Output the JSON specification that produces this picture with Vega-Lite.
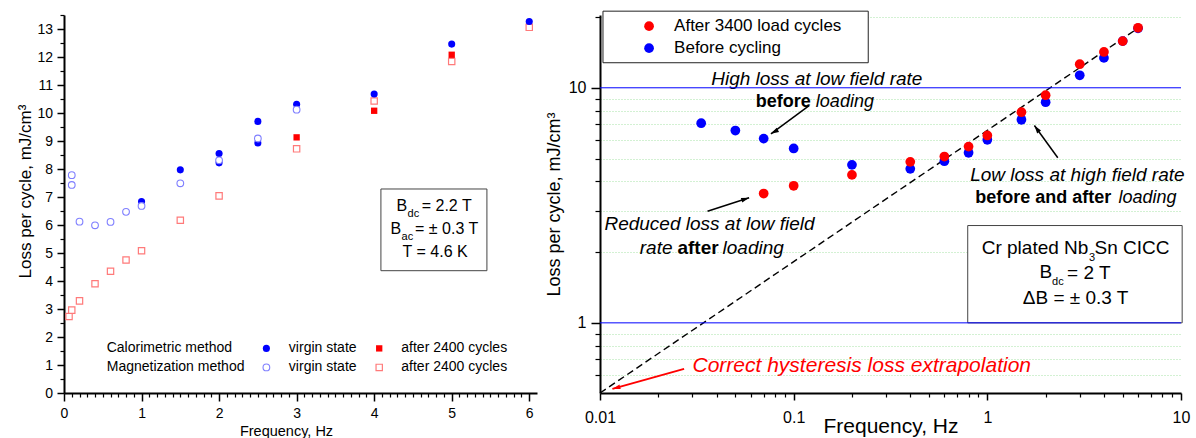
{
"$schema":"https://vega.github.io/schema/vega-lite/v6.json",
"background":"white",
"padding":{"left":16,"top":10,"right":5,"bottom":0},
"bounds":"flush",
"spacing":63,
"config":{
 "font":"Liberation Sans",
 "view":{"stroke":null},
 "axis":{"domainColor":"black","tickColor":"black","labelColor":"black","titleColor":"black","titleFontWeight":"normal","grid":false,"labelFlush":false,"labelOverlap":false,"labelBound":false,"labelFont":"Liberation Sans","titleFont":"Liberation Sans"}
},
"datasets":{
 "one":[{}],
 "left":[
  {"f":1.0,"v":6.84,"s":"cal_virgin"},{"f":1.5,"v":7.97,"s":"cal_virgin"},{"f":2.0,"v":8.55,"s":"cal_virgin"},{"f":2.0,"v":8.22,"s":"cal_virgin"},{"f":2.5,"v":9.70,"s":"cal_virgin"},{"f":2.5,"v":8.93,"s":"cal_virgin"},{"f":3.0,"v":10.31,"s":"cal_virgin"},{"f":4.0,"v":10.68,"s":"cal_virgin"},{"f":5.0,"v":12.46,"s":"cal_virgin"},{"f":6.0,"v":13.27,"s":"cal_virgin"},
  {"f":3.0,"v":9.13,"s":"cal_after"},{"f":4.0,"v":10.08,"s":"cal_after"},{"f":5.0,"v":12.08,"s":"cal_after"},
  {"f":0.1,"v":7.78,"s":"mag_virgin"},{"f":0.1,"v":7.43,"s":"mag_virgin"},{"f":0.2,"v":6.12,"s":"mag_virgin"},{"f":0.4,"v":5.99,"s":"mag_virgin"},{"f":0.6,"v":6.11,"s":"mag_virgin"},{"f":0.8,"v":6.47,"s":"mag_virgin"},{"f":1.0,"v":6.68,"s":"mag_virgin"},{"f":1.5,"v":7.49,"s":"mag_virgin"},{"f":2.0,"v":8.31,"s":"mag_virgin"},{"f":2.5,"v":9.09,"s":"mag_virgin"},{"f":3.0,"v":10.12,"s":"mag_virgin"},
  {"f":0.065,"v":2.73,"s":"mag_after"},{"f":0.1,"v":2.96,"s":"mag_after"},{"f":0.2,"v":3.29,"s":"mag_after"},{"f":0.4,"v":3.90,"s":"mag_after"},{"f":0.6,"v":4.35,"s":"mag_after"},{"f":0.8,"v":4.75,"s":"mag_after"},{"f":1.0,"v":5.08,"s":"mag_after"},{"f":1.5,"v":6.17,"s":"mag_after"},{"f":2.0,"v":7.04,"s":"mag_after"},{"f":3.0,"v":8.72,"s":"mag_after"},{"f":4.0,"v":10.43,"s":"mag_after"},{"f":5.0,"v":11.84,"s":"mag_after"},{"f":6.0,"v":13.06,"s":"mag_after"}
 ],
 "right":[
  {"f":0.0333,"v":7.07,"s":"before"},{"f":0.05,"v":6.58,"s":"before"},{"f":0.07,"v":6.08,"s":"before"},{"f":0.1,"v":5.52,"s":"before"},{"f":0.2,"v":4.70,"s":"before"},{"f":0.4,"v":4.52,"s":"before"},{"f":0.6,"v":4.87,"s":"before"},{"f":0.8,"v":5.29,"s":"before"},{"f":1,"v":6.01,"s":"before"},{"f":1.5,"v":7.31,"s":"before"},{"f":2,"v":8.68,"s":"before"},{"f":3,"v":11.3,"s":"before"},{"f":4,"v":13.4,"s":"before"},{"f":5,"v":15.8,"s":"before"},{"f":6,"v":17.9,"s":"before"},
  {"f":0.07,"v":3.55,"s":"after"},{"f":0.1,"v":3.83,"s":"after"},{"f":0.2,"v":4.26,"s":"after"},{"f":0.4,"v":4.84,"s":"after"},{"f":0.6,"v":5.10,"s":"after"},{"f":0.8,"v":5.62,"s":"after"},{"f":1,"v":6.27,"s":"after"},{"f":1.5,"v":7.87,"s":"after"},{"f":2,"v":9.30,"s":"after"},{"f":3,"v":12.6,"s":"after"},{"f":4,"v":14.2,"s":"after"},{"f":5,"v":15.8,"s":"after"},{"f":6,"v":18.0,"s":"after"}
 ]
},
"hconcat":[
 {
  "width":473,"height":378,
  "resolve":{"axis":{"x":"independent","y":"independent"}},
  "layer":[
   {"data":{"name":"left"},"mark":{"type":"point","opacity":0},
    "encoding":{
     "x":{"field":"f","type":"quantitative","scale":{"domain":[0,6.1],"nice":false,"zero":false},"axis":{"orient":"bottom","values":[0.1,0.2,0.3,0.4,0.5,0.6,0.7,0.8,0.9,1.1,1.2,1.3,1.4,1.5,1.6,1.7,1.8,1.9,2.1,2.2,2.3,2.4,2.5,2.6,2.7,2.8,2.9,3.1,3.2,3.3,3.4,3.5,3.6,3.7,3.8,3.9,4.1,4.2,4.3,4.4,4.5,4.6,4.7,4.8,4.9,5.1,5.2,5.3,5.4,5.5,5.6,5.7,5.8,5.9],"labels":false,"domain":false,"tickSize":4,"tickWidth":1.2,"title":null}},
     "y":{"field":"v","type":"quantitative","scale":{"domain":[0,13.5],"nice":false,"zero":false},"axis":{"orient":"left","values":[0.5,1.5,2.5,3.5,4.5,5.5,6.5,7.5,8.5,9.5,10.5,11.5,12.5,13.5],"labels":false,"domain":false,"tickSize":4,"tickWidth":1.2,"title":null}}}},
   {"data":{"name":"left"},"transform":[{"filter":"datum.s==='mag_after'"}],
    "mark":{"type":"point","shape":"square","size":40,"filled":true,"fill":"white","stroke":"#ff7a7a","strokeWidth":1.2,"opacity":1},
    "encoding":{
     "x":{"field":"f","type":"quantitative","axis":{"orient":"bottom","values":[0,1,2,3,4,5,6],"format":"d","tickSize":8,"tickWidth":1.5,"domainWidth":2,"labelFontSize":14,"labelPadding":5,"title":"Frequency, Hz","titleFontSize":14.5,"titleX":222,"titleY":42.7,"titleBaseline":"alphabetic"}},
     "y":{"field":"v","type":"quantitative","axis":{"orient":"left","values":[0,1,2,3,4,5,6,7,8,9,10,11,12,13],"format":"d","tickSize":7,"tickWidth":1.5,"domainWidth":2,"labelFontSize":14,"labelPadding":4.5,"title":"Loss per cycle, mJ/cm³","titleFontSize":17,"titleX":-33.3,"titleY":176,"titleBaseline":"alphabetic"}}}},
   {"data":{"name":"left"},"transform":[{"filter":"datum.s==='cal_after'"}],
    "mark":{"type":"point","shape":"square","size":40,"filled":true,"color":"#ff0000","opacity":1},
    "encoding":{"x":{"field":"f","type":"quantitative","axis":null},"y":{"field":"v","type":"quantitative","axis":null}}},
   {"data":{"name":"left"},"transform":[{"filter":"datum.s==='cal_virgin'"}],
    "mark":{"type":"point","shape":"circle","size":50,"filled":true,"color":"#0000ff","opacity":1},
    "encoding":{"x":{"field":"f","type":"quantitative","axis":null},"y":{"field":"v","type":"quantitative","axis":null}}},
   {"data":{"name":"left"},"transform":[{"filter":"datum.s==='mag_virgin'"}],
    "mark":{"type":"point","shape":"circle","size":45,"filled":true,"fill":"white","stroke":"#7f7fff","strokeWidth":1.1,"opacity":1},
    "encoding":{"x":{"field":"f","type":"quantitative","axis":null},"y":{"field":"v","type":"quantitative","axis":null}}},
   {"data":{"name":"one"},"mark":{"type":"rect","fill":"white","stroke":"#444444","strokeWidth":1},
    "encoding":{"x":{"datum":4.087,"axis":null},"x2":{"datum":5.454},"y":{"datum":7.286,"axis":null},"y2":{"datum":4.368}}},
   {"data":{"name":"one"},"mark":{"type":"text","text":"B","align":"left","baseline":"middle","fontSize":16},"encoding":{"x":{"datum":4.287,"axis":null},"y":{"datum":6.689,"axis":null}}},
   {"data":{"name":"one"},"mark":{"type":"text","text":"dc","align":"left","baseline":"middle","fontSize":11},"encoding":{"x":{"datum":4.431,"axis":null},"y":{"datum":6.393,"axis":null}}},
   {"data":{"name":"one"},"mark":{"type":"text","text":"= 2.2 T","align":"left","baseline":"middle","fontSize":16},"encoding":{"x":{"datum":4.613,"axis":null},"y":{"datum":6.689,"axis":null}}},
   {"data":{"name":"one"},"mark":{"type":"text","text":"B","align":"left","baseline":"middle","fontSize":16},"encoding":{"x":{"datum":4.21,"axis":null},"y":{"datum":5.857,"axis":null}}},
   {"data":{"name":"one"},"mark":{"type":"text","text":"ac","align":"left","baseline":"middle","fontSize":11},"encoding":{"x":{"datum":4.354,"axis":null},"y":{"datum":5.557,"axis":null}}},
   {"data":{"name":"one"},"mark":{"type":"text","text":"= ± 0.3 T","align":"left","baseline":"middle","fontSize":16},"encoding":{"x":{"datum":4.527,"axis":null},"y":{"datum":5.857,"axis":null}}},
   {"data":{"name":"one"},"mark":{"type":"text","text":"T = 4.6 K","align":"center","baseline":"middle","fontSize":16},"encoding":{"x":{"datum":4.786,"axis":null},"y":{"datum":5.046,"axis":null}}},
   {"data":{"name":"one"},"mark":{"type":"text","text":"Calorimetric method","align":"left","baseline":"middle","fontSize":14},"encoding":{"x":{"datum":0.551,"axis":null},"y":{"datum":1.593,"axis":null}}},
   {"data":{"name":"one"},"mark":{"type":"text","text":"Magnetization method","align":"left","baseline":"middle","fontSize":14},"encoding":{"x":{"datum":0.551,"axis":null},"y":{"datum":0.914,"axis":null}}},
   {"data":{"name":"one"},"mark":{"type":"point","shape":"circle","size":50,"filled":true,"color":"#0000ff","opacity":1},"encoding":{"x":{"datum":2.61,"axis":null},"y":{"datum":1.593,"axis":null}}},
   {"data":{"name":"one"},"mark":{"type":"point","shape":"circle","size":45,"filled":true,"fill":"white","stroke":"#7f7fff","strokeWidth":1.1,"opacity":1},"encoding":{"x":{"datum":2.61,"axis":null},"y":{"datum":0.914,"axis":null}}},
   {"data":{"name":"one"},"mark":{"type":"text","text":"virgin state","align":"left","baseline":"middle","fontSize":14},"encoding":{"x":{"datum":2.90,"axis":null},"y":{"datum":1.593,"axis":null}}},
   {"data":{"name":"one"},"mark":{"type":"text","text":"virgin state","align":"left","baseline":"middle","fontSize":14},"encoding":{"x":{"datum":2.90,"axis":null},"y":{"datum":0.914,"axis":null}}},
   {"data":{"name":"one"},"mark":{"type":"point","shape":"square","size":40,"filled":true,"color":"#ff0000","opacity":1},"encoding":{"x":{"datum":4.065,"axis":null},"y":{"datum":1.593,"axis":null}}},
   {"data":{"name":"one"},"mark":{"type":"point","shape":"square","size":40,"filled":true,"fill":"white","stroke":"#ff7a7a","strokeWidth":1.2,"opacity":1},"encoding":{"x":{"datum":4.065,"axis":null},"y":{"datum":0.914,"axis":null}}},
   {"data":{"name":"one"},"mark":{"type":"text","text":"after 2400 cycles","align":"left","baseline":"middle","fontSize":14},"encoding":{"x":{"datum":4.35,"axis":null},"y":{"datum":1.593,"axis":null}}},
   {"data":{"name":"one"},"mark":{"type":"text","text":"after 2400 cycles","align":"left","baseline":"middle","fontSize":14},"encoding":{"x":{"datum":4.35,"axis":null},"y":{"datum":0.914,"axis":null}}}
  ]
 },
 {
  "width":581,"height":378,
  "resolve":{"axis":{"x":"independent","y":"independent"}},
  "layer":[
   {"data":{"name":"right"},"mark":{"type":"point","opacity":0},
    "encoding":{
     "x":{"field":"f","type":"quantitative","scale":{"type":"log","domain":[0.01,10],"nice":false},"axis":{"orient":"bottom","values":[0.02,0.03,0.04,0.05,0.06,0.07,0.08,0.09,0.2,0.3,0.4,0.5,0.6,0.7,0.8,0.9,2,3,4,5,6,7,8,9],"labels":false,"domain":false,"tickSize":4,"tickWidth":1.2,"title":null}},
     "y":{"field":"v","type":"quantitative","scale":{"type":"log","domain":[0.503,20.4],"nice":false},"axis":{"orient":"left","values":[0.6,0.7,0.8,0.9,2,3,4,5,6,7,8,9,20],"labels":false,"domain":false,"tickSize":5,"tickWidth":1.2,"title":null,"grid":true,"gridColor":"#a6e3a6","gridDash":[1,2],"gridWidth":1}}}},
   {"data":{"name":"one"},"mark":{"type":"rule","color":"black","strokeWidth":1.4,"strokeDash":[7,4]},
    "encoding":{"x":{"datum":0.01,"axis":null},"y":{"datum":0.503,"axis":null},"x2":{"datum":6.1},"y2":{"datum":18.1}}},
   {"data":{"name":"right"},"transform":[{"filter":"datum.s==='before'"}],
    "mark":{"type":"point","shape":"circle","size":95,"filled":true,"color":"#0000ff","opacity":1},
    "encoding":{
     "x":{"field":"f","type":"quantitative","axis":{"orient":"bottom","values":[0.01,0.1,1,10],"format":"~g","tickSize":7,"tickWidth":1.5,"domainWidth":2,"labelFontSize":16,"labelPadding":9,"title":"Frequency, Hz","titleFontSize":21,"titleY":39.4,"titleBaseline":"alphabetic"}},
     "y":{"field":"v","type":"quantitative","axis":{"orient":"left","values":[1,10],"format":"~g","tickSize":9,"tickWidth":1.5,"domainWidth":2,"labelFontSize":16,"labelPadding":5,"title":"Loss per cycle, mJ/cm³","titleFontSize":18,"titleX":-41,"titleBaseline":"alphabetic"}}}},
   {"data":{"name":"right"},"transform":[{"filter":"datum.s==='after'"}],
    "mark":{"type":"point","shape":"circle","size":95,"filled":true,"color":"#ff0000","opacity":1},
    "encoding":{"x":{"field":"f","type":"quantitative","axis":null},"y":{"field":"v","type":"quantitative","axis":null}}},
   {"data":{"name":"one"},"mark":{"type":"rect","fill":"white","stroke":"#222222","strokeWidth":1},
    "encoding":{"x":{"datum":0.01036,"axis":null},"x2":{"datum":0.2427},"y":{"datum":21.18,"axis":null},"y2":{"datum":12.78}}},
   {"data":{"name":"one"},"mark":{"type":"point","shape":"circle","size":95,"filled":true,"color":"#ff0000","opacity":1},"encoding":{"x":{"datum":0.01792,"axis":null},"y":{"datum":18.29,"axis":null}}},
   {"data":{"name":"one"},"mark":{"type":"point","shape":"circle","size":95,"filled":true,"color":"#0000ff","opacity":1},"encoding":{"x":{"datum":0.01792,"axis":null},"y":{"datum":14.74,"axis":null}}},
   {"data":{"name":"one"},"mark":{"type":"text","text":"After 3400 load cycles","align":"left","baseline":"middle","fontSize":17},"encoding":{"x":{"datum":0.02413,"axis":null},"y":{"datum":18.29,"axis":null}}},
   {"data":{"name":"one"},"mark":{"type":"text","text":"Before cycling","align":"left","baseline":"middle","fontSize":17},"encoding":{"x":{"datum":0.02413,"axis":null},"y":{"datum":14.74,"axis":null}}},
   {"data":{"name":"one"},"mark":{"type":"text","text":"High loss at low field rate","align":"center","baseline":"middle","fontSize":19,"fontStyle":"italic"},"encoding":{"x":{"datum":0.1317,"axis":null},"y":{"datum":10.88,"axis":null}}},
   {"data":{"name":"one"},"mark":{"type":"text","text":"before","align":"right","baseline":"middle","fontSize":18,"fontWeight":"bold"},"encoding":{"x":{"datum":0.1227,"axis":null},"y":{"datum":8.68,"axis":null}}},
   {"data":{"name":"one"},"mark":{"type":"text","text":"loading","align":"left","baseline":"middle","fontSize":18,"fontStyle":"italic"},"encoding":{"x":{"datum":0.1302,"axis":null},"y":{"datum":8.68,"axis":null}}},
   {"data":{"name":"one"},"mark":{"type":"rule","color":"black","strokeWidth":1.5},"encoding":{"x":{"datum":0.1202,"axis":null},"y":{"datum":8.39,"axis":null},"x2":{"datum":0.0763},"y2":{"datum":6.37}}},
   {"data":{"name":"one"},"mark":{"type":"point","shape":"M0,0L0.6,2L-0.6,2Z","filled":true,"color":"black","size":64,"angle":240.5,"opacity":1},"encoding":{"x":{"datum":0.0763,"axis":null},"y":{"datum":6.37,"axis":null}}},
   {"data":{"name":"one"},"mark":{"type":"text","text":"Reduced loss at low field","align":"center","baseline":"middle","fontSize":19,"fontStyle":"italic"},"encoding":{"x":{"datum":0.03677,"axis":null},"y":{"datum":2.622,"axis":null}}},
   {"data":{"name":"one"},"mark":{"type":"text","text":"rate","align":"left","baseline":"middle","fontSize":19,"fontStyle":"italic"},"encoding":{"x":{"datum":0.01604,"axis":null},"y":{"datum":2.084,"axis":null}}},
   {"data":{"name":"one"},"mark":{"type":"text","text":"after","align":"left","baseline":"middle","fontSize":19,"fontWeight":"bold"},"encoding":{"x":{"datum":0.02512,"axis":null},"y":{"datum":2.084,"axis":null}}},
   {"data":{"name":"one"},"mark":{"type":"text","text":"loading","align":"left","baseline":"middle","fontSize":19,"fontStyle":"italic"},"encoding":{"x":{"datum":0.04292,"axis":null},"y":{"datum":2.084,"axis":null}}},
   {"data":{"name":"one"},"mark":{"type":"rule","color":"black","strokeWidth":1.5},"encoding":{"x":{"datum":0.0359,"axis":null},"y":{"datum":2.985,"axis":null},"x2":{"datum":0.0589},"y2":{"datum":3.404}}},
   {"data":{"name":"one"},"mark":{"type":"point","shape":"M0,0L0.6,2L-0.6,2Z","filled":true,"color":"black","size":64,"angle":72.1,"opacity":1},"encoding":{"x":{"datum":0.0589,"axis":null},"y":{"datum":3.404,"axis":null}}},
   {"data":{"name":"one"},"mark":{"type":"text","text":"Low loss at high field rate","align":"center","baseline":"middle","fontSize":19,"fontStyle":"italic"},"encoding":{"x":{"datum":2.918,"axis":null},"y":{"datum":4.267,"axis":null}}},
   {"data":{"name":"one"},"mark":{"type":"text","text":"before and after","align":"left","baseline":"middle","fontSize":18,"fontWeight":"bold"},"encoding":{"x":{"datum":0.867,"axis":null},"y":{"datum":3.404,"axis":null}}},
   {"data":{"name":"one"},"mark":{"type":"text","text":"loading","align":"left","baseline":"middle","fontSize":18,"fontStyle":"italic"},"encoding":{"x":{"datum":4.75,"axis":null},"y":{"datum":3.404,"axis":null}}},
   {"data":{"name":"one"},"mark":{"type":"rule","color":"black","strokeWidth":1.5},"encoding":{"x":{"datum":2.311,"axis":null},"y":{"datum":5.036,"axis":null},"x2":{"datum":1.75},"y2":{"datum":6.91}}},
   {"data":{"name":"one"},"mark":{"type":"point","shape":"M0,0L0.6,2L-0.6,2Z","filled":true,"color":"black","size":64,"angle":324.1,"opacity":1},"encoding":{"x":{"datum":1.75,"axis":null},"y":{"datum":6.91,"axis":null}}},
   {"data":{"name":"one"},"mark":{"type":"text","text":"Correct hysteresis loss extrapolation","align":"left","baseline":"middle","fontSize":21,"fontStyle":"italic","color":"#ff0000"},"encoding":{"x":{"datum":0.03004,"axis":null},"y":{"datum":0.6582,"axis":null}}},
   {"data":{"name":"one"},"mark":{"type":"rule","color":"#ff0000","strokeWidth":2},"encoding":{"x":{"datum":0.02718,"axis":null},"y":{"datum":0.637,"axis":null},"x2":{"datum":0.01159},"y2":{"datum":0.5237}}},
   {"data":{"name":"one"},"mark":{"type":"point","shape":"M0,0L0.6,2L-0.6,2Z","filled":true,"color":"#ff0000","size":64,"angle":254.4,"opacity":1},"encoding":{"x":{"datum":0.01159,"axis":null},"y":{"datum":0.5237,"axis":null}}},
   {"data":{"name":"one"},"mark":{"type":"rect","fill":"white","stroke":"#444444","strokeWidth":1},
    "encoding":{"x":{"datum":0.792,"axis":null},"x2":{"datum":10.14},"y":{"datum":2.594,"axis":null},"y2":{"datum":1.0}}},
   {"data":{"name":"one"},"mark":{"type":"rule","color":"#0000ff","strokeWidth":1},"encoding":{"x":{"datum":0.01,"axis":null},"x2":{"datum":10},"y":{"datum":1,"axis":null}}},
   {"data":{"name":"one"},"mark":{"type":"rule","color":"#0000ff","strokeWidth":1},"encoding":{"x":{"datum":0.01,"axis":null},"x2":{"datum":10},"y":{"datum":10,"axis":null}}},
   {"data":{"name":"one"},"mark":{"type":"text","text":"Cr plated Nb","align":"left","baseline":"middle","fontSize":19},"encoding":{"x":{"datum":0.9355,"axis":null},"y":{"datum":2.084,"axis":null}}},
   {"data":{"name":"one"},"mark":{"type":"text","text":"3","align":"left","baseline":"middle","fontSize":11},"encoding":{"x":{"datum":3.345,"axis":null},"y":{"datum":1.885,"axis":null}}},
   {"data":{"name":"one"},"mark":{"type":"text","text":"Sn CICC","align":"left","baseline":"middle","fontSize":19},"encoding":{"x":{"datum":3.58,"axis":null},"y":{"datum":2.084,"axis":null}}},
   {"data":{"name":"one"},"mark":{"type":"text","text":"B","align":"left","baseline":"middle","fontSize":19},"encoding":{"x":{"datum":1.862,"axis":null},"y":{"datum":1.642,"axis":null}}},
   {"data":{"name":"one"},"mark":{"type":"text","text":"dc","align":"left","baseline":"middle","fontSize":11},"encoding":{"x":{"datum":2.16,"axis":null},"y":{"datum":1.489,"axis":null}}},
   {"data":{"name":"one"},"mark":{"type":"text","text":"= 2 T","align":"left","baseline":"middle","fontSize":19},"encoding":{"x":{"datum":2.58,"axis":null},"y":{"datum":1.63,"axis":null}}},
   {"data":{"name":"one"},"mark":{"type":"text","text":"ΔB = ± 0.3 T","align":"center","baseline":"middle","fontSize":19},"encoding":{"x":{"datum":2.857,"axis":null},"y":{"datum":1.278,"axis":null}}}
  ]
 }
]
}
